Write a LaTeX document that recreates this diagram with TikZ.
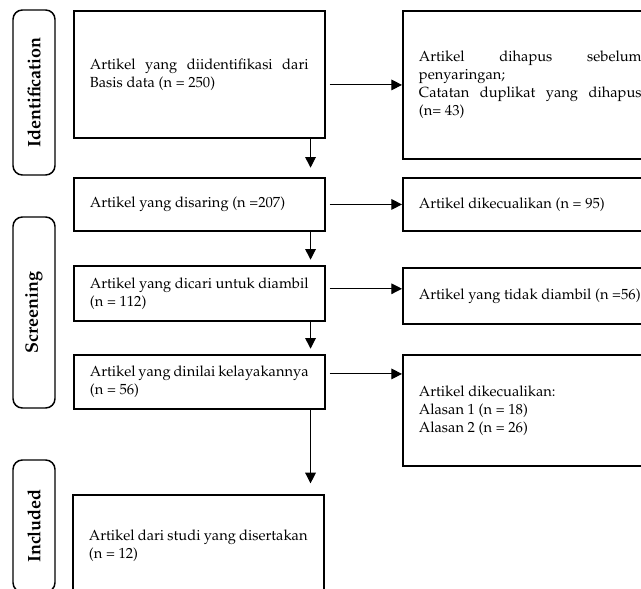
\documentclass[tikz,border=0pt]{standalone}
\usepackage[T1]{fontenc}
\usepackage{mathpazo}
\usetikzlibrary{arrows.meta}

\newcommand{\pxu}{0.75pt}

\begin{document}
\begin{tikzpicture}[x=0.75pt, y=-0.75pt, >={Triangle[length=8pt, width=8pt]},
    stage/.style={draw, line width=1.1pt, rounded corners=7pt, rotate=90, inner sep=0pt,
        minimum height=42*\pxu, font=\fontsize{13.5}{15}\selectfont\bfseries},
    flowbox/.style={draw, line width=1.4pt, anchor=north west, inner xsep=12pt, inner ysep=0pt,
        minimum width=250*\pxu, text width=164pt, align=justify, font=\fontsize{11}{13.5}\selectfont},
    sidebox/.style={flowbox, text width=167pt},
    flow/.style={->, line width=0.8pt}]
    \useasboundingbox (0,0) rectangle (641,588);
    \clip (0,0) rectangle (641,588);

    % stages
    \node[stage, minimum width=165*\pxu] (ident) at (34,92.5) {Identification};
    \node[stage, minimum width=191*\pxu] (screen) at (34,312.5) {Screening};
    \node[stage, minimum width=132*\pxu] (incl) at (34,526) {Included};

    % main column
    \node[flowbox, minimum height=127*\pxu] (found) at (73,10)
        {Artikel yang diidentifikasi dari\linebreak Basis data (n = 250)};
    \node[flowbox, minimum height=53*\pxu] (screened) at (73,177)
        {Artikel yang disaring (n =207)};
    \node[flowbox, minimum height=55*\pxu] (sought) at (73,265)
        {Artikel yang dicari untuk diambil\linebreak (n = 112)};
    \node[flowbox, minimum height=54*\pxu] (assessed) at (73,354)
        {Artikel yang dinilai kelayakannya\linebreak (n = 56)};
    \node[flowbox, minimum height=102*\pxu] (included) at (72,494)
        {Artikel dari studi yang disertakan\linebreak (n = 12)};

    % side column
    \node[sidebox, minimum height=148*\pxu] (removed) at (402,10)
        {Artikel dihapus sebelum\linebreak penyaringan;\\
         Catatan duplikat yang dihapus\linebreak (n= 43)};
    \node[sidebox, minimum height=53*\pxu] (excl1) at (402,177)
        {Artikel dikecualikan (n = 95)};
    \node[sidebox, minimum height=56*\pxu] (notret) at (402,267)
        {Artikel yang tidak diambil (n =56)};
    \node[sidebox, minimum height=111*\pxu] (excl2) at (402,354)
        {Artikel dikecualikan:\\ Alasan 1 (n = 18)\\ Alasan 2 (n = 26)};

    % arrows down
    \draw[flow, shorten >=7pt] ([xshift=-15*\pxu]found.south east) -- ([xshift=-15*\pxu]screened.north east);
    \draw[flow, shorten >=4pt] ([xshift=-15*\pxu]screened.south east) -- ([xshift=-15*\pxu]sought.north east);
    \draw[flow, shorten >=4pt] ([xshift=-15*\pxu]sought.south east) -- ([xshift=-15*\pxu]assessed.north east);
    \draw[flow, shorten >=8pt] ([xshift=-15*\pxu]assessed.south east) -- ([xshift=-14*\pxu]included.north east);

    % arrows right
    \draw[flow, shorten <=3pt] (found.east |- removed.west) -- (removed.west);
    \draw[flow, shorten <=3pt] (screened.east) -- (excl1.west);
    \draw[flow, shorten <=3pt] ([yshift=3.5pt]sought.east) -- ([yshift=3.5pt]sought.east -| notret.west);
    \draw[flow, shorten <=3pt] ([yshift=6pt]assessed.east) -- ([yshift=6pt]assessed.east -| excl2.west);
\end{tikzpicture}
\end{document}
